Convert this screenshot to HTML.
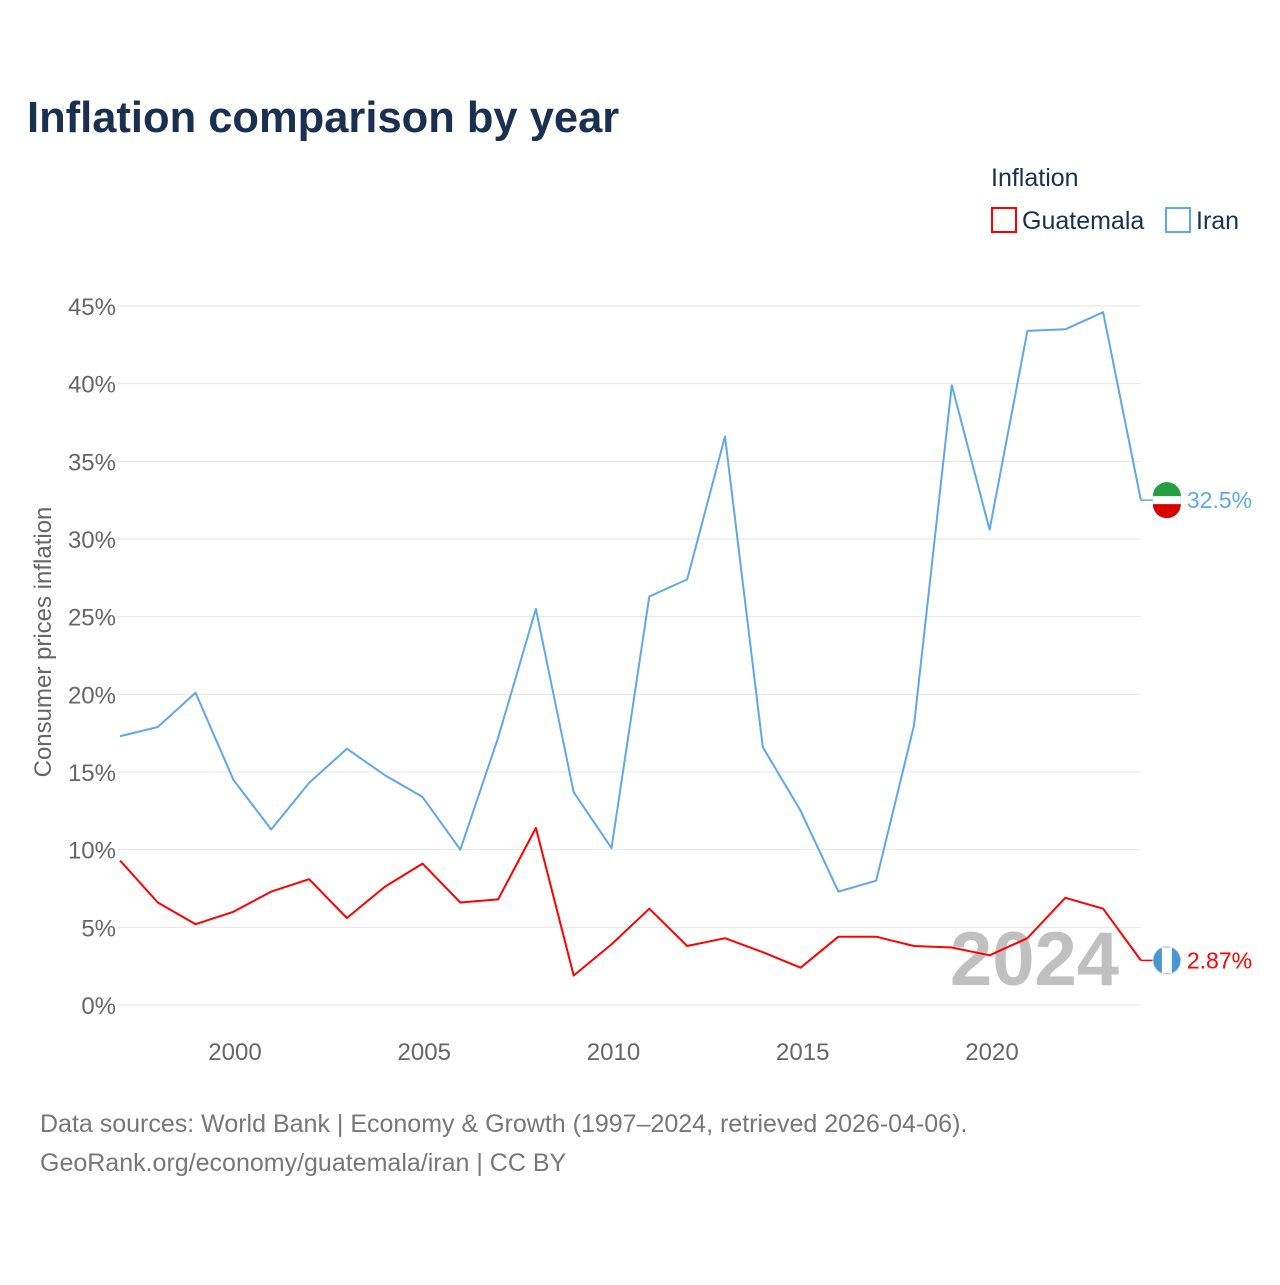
<!DOCTYPE html>
<html><head><meta charset="utf-8">
<style>
body{margin:0;background:#fff;font-family:"Liberation Sans",sans-serif;}
#wrap{position:relative;width:1280px;height:1280px;}
</style></head>
<body>
<div id="wrap">
<svg id="chart" width="1280" height="1280">
<text x="27" y="132" font-size="43.5" font-weight="bold" fill="#1a3050">Inflation comparison by year</text>
<text x="991" y="186" font-size="25" fill="#1a3050">Inflation</text>
<g>
<rect x="992" y="208" width="24" height="24" fill="none" stroke="#ff0000" stroke-width="2"/>
<text x="1022" y="229" font-size="25" fill="#1a3050">Guatemala</text></g>
<g>
<rect x="1166" y="208" width="24" height="24" fill="none" stroke="#5fa8e8" stroke-width="2"/>
<text x="1196" y="229" font-size="25" fill="#1a3050">Iran</text></g>
<g id="grid"></g>
<g id="xt"></g>
<text x="950" y="985" font-size="76" font-weight="bold" fill="#c0c0c0">2024</text>
<g id="series"></g>
<text transform="translate(51,642) rotate(-90)" text-anchor="middle" font-size="24" fill="#666">Consumer prices inflation</text>
<text x="40" y="1132" font-size="25" fill="#777">Data sources: World Bank | Economy &amp; Growth (1997–2024, retrieved 2026-04-06).</text>
<text x="40" y="1171" font-size="25" fill="#777">GeoRank.org/economy/guatemala/iran | CC BY</text>
</svg>
</div>
<script>
const years=[1997,1998,1999,2000,2001,2002,2003,2004,2005,2006,2007,2008,2009,2010,2011,2012,2013,2014,2015,2016,2017,2018,2019,2020,2021,2022,2023,2024];
const iran=[17.3,17.9,20.1,14.5,11.3,14.3,16.5,14.8,13.4,10.0,17.2,25.5,13.7,10.1,26.3,27.4,36.6,16.6,12.5,7.3,8.0,18.0,39.9,30.6,43.4,43.5,44.6,32.5];
const guatemala=[9.3,6.6,5.2,6.0,7.3,8.1,5.6,7.6,9.1,6.6,6.8,11.4,1.9,3.9,6.2,3.8,4.3,3.4,2.4,4.4,4.4,3.8,3.7,3.2,4.3,6.9,6.2,2.87];
const yTicks=[0,5,10,15,20,25,30,35,40,45];
const xTicks=[2000,2005,2010,2015,2020];
const NS="http://www.w3.org/2000/svg";
const X=v=>120+(v-1997)*37.81;
const Y=v=>1005-v*(699/45);
function mk(t,a,p){const e=document.createElementNS(NS,t);for(const k in a)e.setAttribute(k,a[k]);p.appendChild(e);return e;}
const grid=document.getElementById('grid');
yTicks.forEach(t=>{
 const l=mk('line',{x1:118,x2:1141,y1:Y(t),y2:Y(t),stroke:'#e6e6e6','stroke-width':1},grid);
 
 
 const tx=mk('text',{x:116,y:Y(t)+9,'text-anchor':'end','font-size':24,fill:'#666'},grid);
 tx.textContent=t+'%';
 
 
});
const xt=document.getElementById('xt');
xTicks.forEach(t=>{
 const tx=mk('text',{x:235+(t-2000)*37.85,y:1060,'text-anchor':'middle','font-size':24,fill:'#666'},xt);
 tx.textContent=t;
 
 
});
const sg=document.getElementById('series');
function draw(vals,color,name,label){
 const d=vals.map((v,i)=>(i?'L':'M')+X(years[i]).toFixed(1)+','+Y(v).toFixed(1)).join(' ');
 const p=mk('path',{d:d,fill:'none',stroke:color,'stroke-width':2,'stroke-linejoin':'round'},sg);
 
 
 const last=vals[vals.length-1],lx=X(years[years.length-1]),ly=Y(last);
 mk('line',{x1:lx,x2:lx+12,y1:ly,y2:ly,stroke:color,'stroke-width':1.5},sg);
 const c=mk('circle',{cx:lx+26,cy:ly,r:14,fill:name==='iran'?'#fff':'#4997d0',stroke:'#ddd'},sg);
 
 
 if(name==='iran'){mk('path',{d:`M${lx+12},${ly-4} a14,14 0 0 1 28,0 z`,fill:'#239f40'},sg);mk('path',{d:`M${lx+12},${ly+4} a14,14 0 0 0 28,0 z`,fill:'#da0000'},sg);}
 else{mk('rect',{x:lx+21,y:ly-13,width:10,height:26,fill:'#fff'},sg);}
 const t=mk('text',{x:lx+46,y:ly+8,'font-size':23,fill:color},sg);
 t.textContent=label;
 
 
}
draw(iran,'#5fa8e8','iran','32.5%');
draw(guatemala,'#ff0000','guatemala','2.87%');
</script>
</body></html>
